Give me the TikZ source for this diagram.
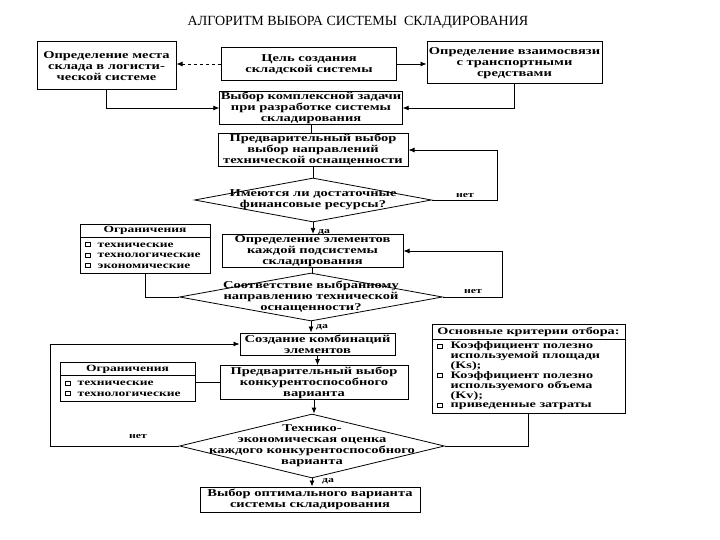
\documentclass[tikz,border=0pt]{standalone}
\usepackage{fontspec}
\setmainfont{Liberation Serif}
\newfontfamily\boxfont{Liberation Serif}[FakeStretch=1.38]
\newfontfamily\lstfont{Liberation Serif}[FakeStretch=1.42]
\usetikzlibrary{shapes.geometric,shapes.multipart,arrows.meta}
\newcommand\sqb{\raisebox{0.8pt}{\setlength{\fboxsep}{0pt}\setlength{\fboxrule}{0.6pt}\fbox{\rule{0pt}{3.5pt}\hspace{4.5pt}}}}
\begin{document}
\begin{tikzpicture}[x=1pt,y=-1pt,
  every node/.style={font=\boxfont\bfseries\fontsize{10.5}{11}\selectfont},
  box/.style={draw,line width=1pt,align=center,inner sep=1pt},
  dec/.style={draw,diamond,line width=0.8pt,inner sep=0pt},
  lst/.style={draw,line width=1pt,rectangle split,rectangle split parts=2,
     rectangle split part align={center,left},inner ysep=2pt,inner xsep=5pt},
  lbl/.style={font=\boxfont\bfseries\fontsize{8.5}{9}\selectfont,inner sep=1pt},
  ln/.style={line width=0.8pt},
  arr/.style={line width=0.8pt,-{Latex[length=6pt,width=5pt]}}]
\useasboundingbox (0,0) rectangle (720,540);
\fill[white] (0,0) rectangle (720,540);
\node[font=\rmfamily\fontsize{14}{16}\selectfont] (T) at (358,22) {АЛГОРИТМ ВЫБОРА СИСТЕМЫ \ СКЛАДИРОВАНИЯ};
\node[box,minimum width=139,minimum height=48] (A) at (106.5,66) {Определение места\\склада в логисти-\\ческой системе};
\node[box,minimum width=175,minimum height=33] (B) at (309,64) {Цель создания\\складской системы};
\node[box,minimum width=175,minimum height=42] (C) at (514.5,63) {Определение взаимосвязи\\с транспортными\\средствами};
\node[box,minimum width=179,minimum height=32] (D) at (311,108) {Выбор комплексной задачи\\при разработке системы\\складирования};
\node[box,minimum width=190,minimum height=30] (E) at (313,150) {Предварительный выбор\\выбор направлений\\технической оснащенности};
\node[dec,minimum width=237,minimum height=44,label={[align=center]center:Имеются ли достаточные\\финансовые ресурсы?}] (F) at (313,200) {};
\node[box,minimum width=181,minimum height=28] (G) at (312.5,251) {Определение элементов\\каждой подсистемы\\складирования};
\node[lst,minimum width=130,font=\lstfont\bfseries\fontsize{9.5}{10.5}\selectfont] (H) at (145,249) {Ограничения\nodepart{two}\begin{tabular}{@{}l@{\hspace{7pt}}l@{}}\sqb&технические\\ \sqb&технологические\\ \sqb&экономические\end{tabular}};
\node[dec,minimum width=263,minimum height=48,label={[align=center]center:Соответствие выбранному\\направлению технической\\оснащенности?}] (I) at (311,297) {};
\node[box,minimum width=155,minimum height=22] (J) at (317.5,344) {Создание комбинаций\\элементов};
\node[box,minimum width=188,minimum height=31] (K) at (314,382.5) {Предварительный выбор\\конкурентоспособного\\варианта};
\node[lst,minimum width=135,font=\lstfont\bfseries\fontsize{9.5}{10.5}\selectfont] (L) at (127.5,382) {Ограничения\nodepart{two}\begin{tabular}{@{}l@{\hspace{7pt}}l@{}}\sqb&технические\\ \sqb&технологические\end{tabular}};
\node[lst,minimum width=193,font=\lstfont\bfseries\fontsize{10}{9.8}\selectfont] (M) at (528.5,369) {Основные критерии отбора:\nodepart{two}\begin{tabular}{@{}l@{\hspace{8pt}}l@{}}\sqb&Коэффициент полезно\\ &используемой площади\\ &(Ks);\\ \sqb&Коэффициент полезно\\ &используемого объема\\ &(Kv);\\ \sqb&приведенные затраты\end{tabular}};
\node[dec,minimum width=265,minimum height=64,label={[align=center]center:Технико-\\экономическая оценка\\каждого конкурентоспособного\\варианта}] (N) at (312,446) {};
\node[box,minimum width=220,minimum height=25] (O) at (310,499.5) {Выбор оптимального варианта\\системы складирования};
% connectors
\draw[arr,dashed] (B.west) -- (A.east |- B.west);
\draw[arr] (B.east) -- (C.west |- B.east);
\draw[arr] (A.south) |- (D.west);
\draw[arr] (C.south) |- (D.east);
\draw[ln] (D.south) -- (D.south |- E.north);
\draw[ln] (F.north |- E.south) -- (F.north);
\draw[arr] (F.east) -- (497,200) |- (E.east) ;
\node[lbl] (n1) at (465,196) {нет};
\draw[arr] (F.south) -- (F.south |- G.north);
\node[lbl] (d1) at (324,232) {да};
\draw[ln] (G.south) -- (G.south |- I.north);
\draw[ln] (H.south) |- (I.west);
\draw[arr] (I.east) -- (502,297) |- (G.east);
\node[lbl] (n2) at (473,292) {нет};
\draw[arr] (I.south) -- (I.south |- J.north);
\node[lbl] (d2) at (322,327) {да};
\draw[arr] (J.south) -- (J.south |- K.north);
\draw[ln] (L.east) -- (K.west |- L.east);
\draw[arr] (K.south) -- (K.south |- N.north);
\draw[ln] (M.south) |- (N.east);
\draw[arr] (N.west) -- (50,446) |- (J.west);
\node[lbl] (n3) at (138,437) {нет};
\draw[arr] (N.south) -- (N.south |- O.north);
\node[lbl] (d3) at (328,481) {да};
\end{tikzpicture}
\end{document}
